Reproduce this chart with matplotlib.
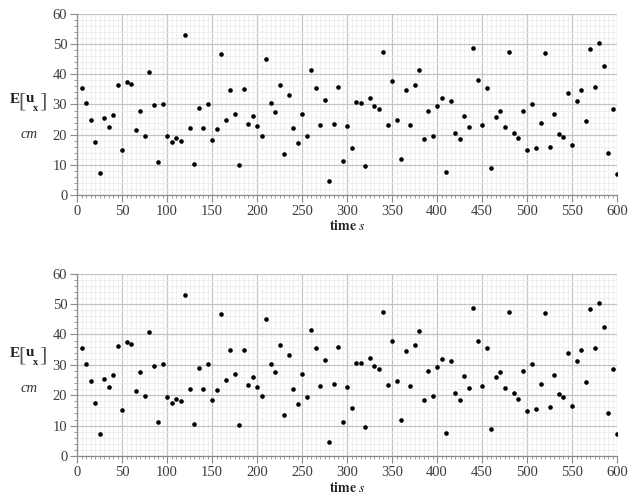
import matplotlib
matplotlib.use("Agg")
import matplotlib.pyplot as plt
from matplotlib.ticker import MultipleLocator

# sample times (s) and the mean displacement E[u_x] (cm)
time_s = list(range(5, 605, 5))
u_x = [
    35.5, 30.4, 24.8, 17.5, 7.3, 25.5, 22.7, 26.6, 36.3, 15.0,
    37.4, 36.8, 21.4, 27.7, 19.7, 40.7, 29.7, 11.1, 30.2, 19.4,
    17.5, 18.9, 18.0, 52.9, 22.2, 10.4, 28.8, 22.2, 30.3, 18.3,
    21.8, 46.6, 24.9, 34.9, 26.9, 10.1, 35.0, 23.4, 26.1, 22.8,
    19.7, 45.0, 30.4, 27.6, 36.5, 13.6, 33.1, 22.2, 17.2, 26.9,
    19.5, 41.6, 35.6, 23.2, 31.5, 4.6, 23.7, 35.9, 11.3, 22.8,
    15.7, 30.7, 30.6, 9.6, 32.1, 29.6, 28.5, 47.3, 23.3, 37.7,
    24.7, 11.8, 34.7, 23.1, 36.6, 41.3, 18.4, 27.9, 19.6, 29.4,
    32.0, 7.5, 31.3, 20.7, 18.5, 26.3, 22.5, 48.7, 38.0, 23.2,
    35.6, 9.0, 25.9, 27.7, 22.4, 47.4, 20.7, 18.9, 27.9, 14.9,
    30.2, 15.6, 23.8, 47.1, 16.0, 26.8, 20.3, 19.3, 33.9, 16.5,
    31.2, 34.8, 24.5, 48.3, 35.7, 50.5, 42.6, 14.0, 28.6, 7.1,
]
x_ticks = list(range(0, 601, 50))
y_ticks = list(range(0, 61, 10))

W, H = 644, 494
fig = plt.figure(figsize=(W / 100, H / 100), dpi=100)

SERIF = "Liberation Serif"
tick_font = dict(family=SERIF, size=10.5, color="#3c3c3c")


def put(x, y, s, **kw):
    fig.text(x / W, 1 - y / H, s, ha="center", va="center", **kw)


def ylabel(y):
    # E [ u_x ]  with tall thin brackets, unit "cm" underneath
    put(14.5, y - 3, "E", family=SERIF, weight="bold", fontsize=11, color="#222222")
    put(22.5, y, "[", family=SERIF, fontsize=16, color="#555555")
    put(30.5, y - 4, "u", family=SERIF, weight="bold", fontsize=11, color="#222222")
    put(36, y + 6, "x", family=SERIF, weight="bold", fontsize=7.5, color="#222222")
    put(43, y, "]", family=SERIF, fontsize=16, color="#555555")
    put(29, y + 32, "cm", family=SERIF, style="italic", fontsize=10.5, color="#333333")


def panel(rect, ylab_y, xlab_y):
    ax = fig.add_axes(rect)
    ax.plot(time_s, u_x, "o", color="black", markersize=3.3, markeredgewidth=0)
    ax.set_xlim(0, 600)
    ax.set_ylim(0, 60)
    ax.set_xticks(x_ticks)
    ax.set_yticks(y_ticks)
    ax.xaxis.set_minor_locator(MultipleLocator(5))
    ax.yaxis.set_minor_locator(MultipleLocator(2))
    ax.grid(which="major", color="#c4c4c4", linewidth=0.9)
    ax.grid(which="minor", color="#ececec", linewidth=0.6)
    ax.set_axisbelow(True)
    for side in ("top", "right"):
        ax.spines[side].set_visible(False)
    for side in ("left", "bottom"):
        ax.spines[side].set_color("#8a8a8a")
        ax.spines[side].set_linewidth(0.9)
    ax.tick_params(which="major", length=5, width=0.8, color="#8a8a8a", pad=2)
    ax.tick_params(which="minor", length=2.5, width=0.6, color="#8a8a8a")
    for lab in ax.get_xticklabels() + ax.get_yticklabels():
        lab.set_fontfamily(tick_font["family"])
        lab.set_fontsize(tick_font["size"])
        lab.set_color(tick_font["color"])
    ylabel(ylab_y)
    put(347, xlab_y, r"$\mathbf{time}\ \mathit{s}$", fontsize=10,
        color="#222222", math_fontfamily="stix")
    return ax


left = 77 / W
width = (617 - 77) / W
panel([left, 1 - 195 / H, width, (195 - 14) / H], 102, 226)
panel([left, 1 - 456 / H, width, (456 - 273.7) / H], 356, 488)

fig.savefig("out.png", dpi=100)
